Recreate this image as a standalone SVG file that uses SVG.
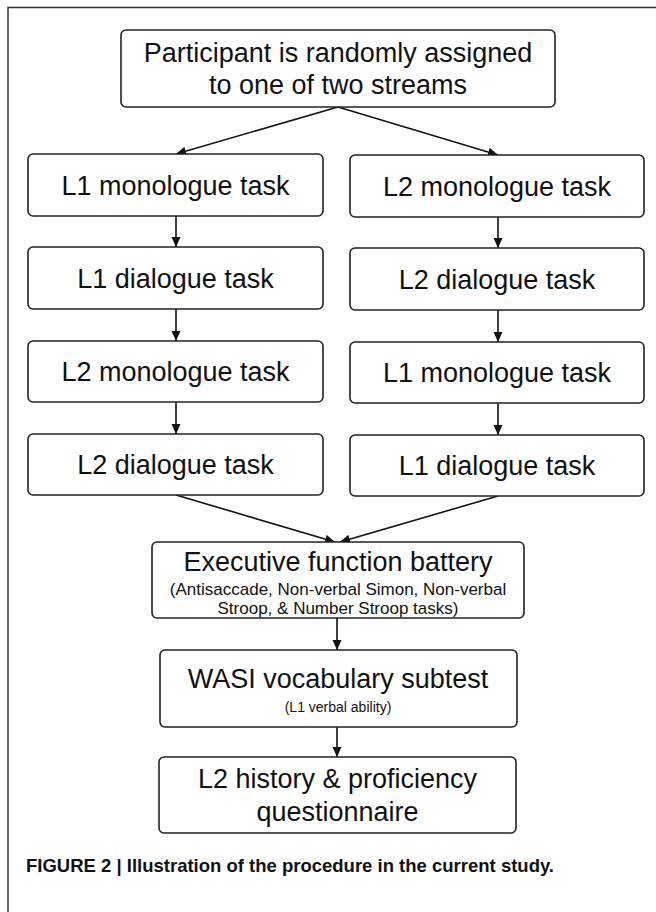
<svg xmlns="http://www.w3.org/2000/svg" width="656" height="912" viewBox="0 0 656 912">
<style>
.box{fill:#fff;stroke:#222;stroke-width:1.6}
.t{font-family:"Liberation Sans",Arial,sans-serif;font-size:27px;fill:#111;text-anchor:middle}
.s{font-family:"Liberation Sans",Arial,sans-serif;font-size:17px;fill:#111;text-anchor:middle}
.xs{font-family:"Liberation Sans",Arial,sans-serif;font-size:14px;fill:#111;text-anchor:middle}
.cap{font-family:"Liberation Sans",Arial,sans-serif;font-size:19px;font-weight:bold;fill:#111}
.c{stroke:#111;stroke-width:1.6;fill:none;marker-end:url(#ah)}
</style>
<defs>
<marker id="ah" markerUnits="userSpaceOnUse" markerWidth="11" markerHeight="10" refX="10" refY="5" orient="auto">
<path d="M0,0.5 L10,5 L0,9.5 z" fill="#111"/>
</marker>
</defs>
<rect width="656" height="912" fill="#fff"/>
<path d="M8,912 L8,7.5 L656,7.5" fill="none" stroke="#333" stroke-width="1.5"/>

<g id="connectors">
<line class="c" x1="338" y1="107" x2="176" y2="154"/>
<line class="c" x1="338" y1="107" x2="498" y2="155"/>
<line class="c" x1="176" y1="216" x2="176" y2="247"/>
<line class="c" x1="176" y1="309" x2="176" y2="341"/>
<line class="c" x1="176" y1="402" x2="176" y2="434"/>
<line class="c" x1="498" y1="217" x2="498" y2="248"/>
<line class="c" x1="498" y1="310" x2="498" y2="342"/>
<line class="c" x1="498" y1="403" x2="498" y2="435"/>
<line class="c" x1="176" y1="495" x2="335" y2="542"/>
<line class="c" x1="498" y1="496" x2="340" y2="542"/>
<line class="c" x1="337" y1="618" x2="337" y2="650"/>
<line class="c" x1="337" y1="727" x2="337" y2="757"/>
</g>

<g id="start">
<rect class="box" x="121" y="30" width="434" height="77" rx="5"/>
<text class="t" x="338" y="62">Participant is randomly assigned</text>
<text class="t" x="338" y="94">to one of two streams</text>
</g>

<g id="a1">
<rect class="box" x="28" y="154" width="295" height="62" rx="5"/>
<text class="t" x="175.5" y="194.5">L1 monologue task</text>
</g>
<g id="a2">
<rect class="box" x="28" y="247" width="295" height="62" rx="5"/>
<text class="t" x="175.5" y="287.5">L1 dialogue task</text>
</g>
<g id="a3">
<rect class="box" x="28" y="341" width="295" height="61" rx="5"/>
<text class="t" x="175.5" y="381">L2 monologue task</text>
</g>
<g id="a4">
<rect class="box" x="28" y="434" width="295" height="61" rx="5"/>
<text class="t" x="175.5" y="474">L2 dialogue task</text>
</g>

<g id="b1">
<rect class="box" x="350" y="155" width="294" height="62" rx="5"/>
<text class="t" x="497" y="195.5">L2 monologue task</text>
</g>
<g id="b2">
<rect class="box" x="350" y="248" width="294" height="62" rx="5"/>
<text class="t" x="497" y="288.5">L2 dialogue task</text>
</g>
<g id="b3">
<rect class="box" x="350" y="342" width="294" height="61" rx="5"/>
<text class="t" x="497" y="382">L1 monologue task</text>
</g>
<g id="b4">
<rect class="box" x="350" y="435" width="294" height="61" rx="5"/>
<text class="t" x="497" y="475">L1 dialogue task</text>
</g>

<g id="exec">
<rect class="box" x="152" y="542" width="372" height="76" rx="5"/>
<text class="t" x="338" y="571">Executive function battery</text>
<text class="s" x="338" y="595">(Antisaccade, Non-verbal Simon, Non-verbal</text>
<text class="s" x="338" y="614">Stroop, &amp; Number Stroop tasks)</text>
</g>

<g id="wasi">
<rect class="box" x="160" y="650" width="357" height="77" rx="5"/>
<text class="t" x="338" y="688">WASI vocabulary subtest</text>
<text class="xs" x="338" y="712">(L1 verbal ability)</text>
</g>

<g id="hist">
<rect class="box" x="159" y="757" width="357" height="76" rx="5"/>
<text class="t" x="337.5" y="788">L2 history &amp; proficiency</text>
<text class="t" x="337.5" y="821">questionnaire</text>
</g>

<text class="cap" x="26" y="872" textLength="528" lengthAdjust="spacingAndGlyphs">FIGURE 2 | Illustration of the procedure in the current study.</text>
</svg>
